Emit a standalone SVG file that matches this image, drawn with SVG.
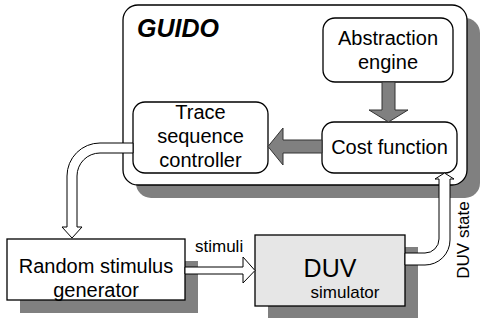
<svg xmlns="http://www.w3.org/2000/svg" width="481" height="320" viewBox="0 0 481 320">
  <style>
    .shadow { fill: #808080; stroke: none; }
    .box { fill: #ffffff; stroke: #000000; stroke-width: 1.3; }
    .sim { fill: #e6e6e6; stroke: #000000; stroke-width: 1.3; }
    .lbl { font-family: "Liberation Sans", Arial, sans-serif; font-size: 20px; fill: #000000; text-anchor: middle; }
    .small { font-family: "Liberation Sans", Arial, sans-serif; font-size: 17px; fill: #000000; }
    .fat { fill: #808080; stroke: #333333; stroke-width: 1; stroke-linejoin: miter; }
    .hollow { fill: #ffffff; stroke: #000000; stroke-width: 1; stroke-linejoin: miter; }
  </style>

  <!-- GUIDO container -->
  <g id="guido">
    <rect class="shadow" x="136" y="18" width="344" height="180" rx="15" ry="15"/>
    <rect class="box" x="123" y="5" width="344" height="180" rx="15" ry="15"/>
    <text x="137" y="37" font-family="Liberation Sans, Arial, sans-serif" font-size="25" font-weight="bold" font-style="italic">GUIDO</text>
  </g>

  <g id="abstraction-engine">
    <rect class="box" x="323" y="18" width="130" height="64" rx="12" ry="12"/>
    <text class="lbl" x="388" y="45">Abstraction</text>
    <text class="lbl" x="388" y="69">engine</text>
  </g>

  <g id="cost-function">
    <rect class="box" x="322" y="122" width="135" height="51" rx="12" ry="12"/>
    <text class="lbl" x="389.5" y="154">Cost function</text>
  </g>

  <g id="trace-sequence-controller">
    <rect class="box" x="133" y="102" width="135" height="71" rx="12" ry="12"/>
    <text class="lbl" x="200.5" y="119">Trace</text>
    <text class="lbl" x="200.5" y="143">sequence</text>
    <text class="lbl" x="200.5" y="167">controller</text>
  </g>

  <g id="random-stimulus-generator">
    <rect class="shadow" x="20" y="261" width="178" height="52"/>
    <rect class="box" x="7" y="239" width="178" height="61"/>
    <text class="lbl" x="96" y="273">Random stimulus</text>
    <text class="lbl" x="96" y="297">generator</text>
  </g>

  <g id="duv-simulator">
    <rect class="shadow" x="268" y="247" width="150" height="71"/>
    <rect class="sim" x="255" y="235" width="150" height="71"/>
    <text x="330" y="277" font-family="Liberation Sans, Arial, sans-serif" font-size="25" text-anchor="middle">DUV</text>
    <text class="small" x="345" y="298" text-anchor="middle">simulator</text>
  </g>

  <!-- connectors -->
  <g id="connectors">
    <!-- abstraction engine to cost function -->
    <path class="fat" d="M382,82 L395,82 L395,110 L408,110 L388.5,122 L369,110 L382,110 Z"/>
    <!-- cost function to trace sequence controller -->
    <path class="fat" d="M322,140 L283,140 L283,128 L268,146.5 L283,165 L283,153 L322,153 Z"/>
    <!-- trace sequence controller to random stimulus generator -->
    <path class="hollow" d="M133,143 L100,143 A33,33 0 0 0 67,176 L67,227 L62,227 L72,238 L82,227 L77,227 L77,176 A23,23 0 0 1 100,153 L133,153 Z"/>
    <!-- stimuli -->
    <path class="hollow" d="M185,267 L243,267 L243,257 L255,270.5 L243,283 L243,274 L185,274 Z"/>
    <text class="small" x="195" y="252">stimuli</text>
    <!-- DUV state back to cost function -->
    <path class="hollow" d="M405,253 L425,253 A14,14 0 0 0 439,239 L439,179 L435,179 L444.5,173 L454,179 L450,179 L450,240 A25,25 0 0 1 425,265 L405,265 Z"/>
    <text class="small" transform="translate(469,240) rotate(-90)" text-anchor="middle">DUV state</text>
  </g>
</svg>
